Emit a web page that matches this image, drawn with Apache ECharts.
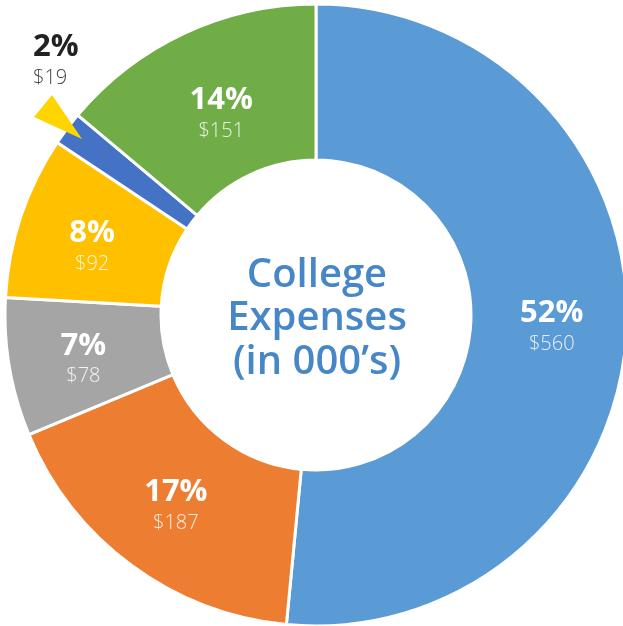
<!DOCTYPE html>
<html>
<head>
<meta charset="utf-8">
<script src="https://cdn.jsdelivr.net/npm/echarts@6/dist/echarts.min.js"></script>
<style>html,body{margin:0;padding:0;background:#fff}#c{width:623px;height:626px}</style>
</head>
<body>
<div id="c"></div>
<script>
const categories = ['Tuition', 'Room & Board', 'Books', 'Transportation', 'Fees', 'Personal'];
const values = [560, 187, 78, 92, 19, 151];
const colors = ['#5B9BD5', '#ED7D31', '#A5A5A5', '#FFC000', '#4472C4', '#70AD47'];

const chart = echarts.init(document.getElementById('c'));
const FONT = '"Open Sans", Lato, sans-serif';
const fmt = p => '{p|' + Math.round(p.percent) + '%}\n{d|$' + p.value + '}';

const data = values.map((v, i) => {
  const d = { name: categories[i], value: v, itemStyle: { color: colors[i] } };
  if (i === 4) {
    d.label = {
      show: true,
      position: 'outside',
      formatter: fmt,
      color: '#222',
      rich: {
        p: { fontFamily: FONT, fontWeight: 700, fontSize: 31, color: '#222', lineHeight: 36 },
        d: { fontFamily: FONT, fontWeight: 300, fontSize: 20, color: '#444', lineHeight: 26 }
      }
    };
    d.labelLine = { show: false };
  }
  return d;
});

chart.setOption({
  animation: false,
  title: {
    text: 'College\nExpenses\n(in 000\u2019s)',
    left: 312, top: 314,
    textAlign: 'center', textVerticalAlign: 'middle',
    textStyle: { fontFamily: FONT, fontWeight: 600, fontSize: 40, lineHeight: 43.5, color: '#4787C7' }
  },
  graphic: [{
    type: 'polygon',
    z: 100,
    shape: { points: [[34, 117], [52, 95], [82, 139]] },
    style: { fill: '#FFD500' }
  }],
  series: [{
    type: 'pie',
    center: [316, 315],
    radius: [155, 311],
    startAngle: 90,
    clockwise: true,
    avoidLabelOverlap: false,
    itemStyle: { borderColor: '#fff', borderWidth: 3 },
    label: {
      show: true,
      position: 'inside',
      formatter: fmt,
      rich: {
        p: { fontFamily: FONT, fontWeight: 700, fontSize: 31, color: '#fff', lineHeight: 36 },
        d: { fontFamily: FONT, fontWeight: 300, fontSize: 20, color: 'rgba(255,255,255,0.85)', lineHeight: 26 }
      }
    },
    labelLayout: function (params) {
      if (params.dataIndex === 4) {
        return { x: 33, y: 60, align: 'left', verticalAlign: 'middle' };
      }
      if (params.dataIndex === 5) return { dx: 5, dy: 12 };
      if (params.dataIndex === 3) return { dy: 6 };
      if (params.dataIndex === 2) return { dy: 4 };
      return {};
    },
    emphasis: { disabled: true },
    data: data
  }]
});
</script>
</body>
</html>
